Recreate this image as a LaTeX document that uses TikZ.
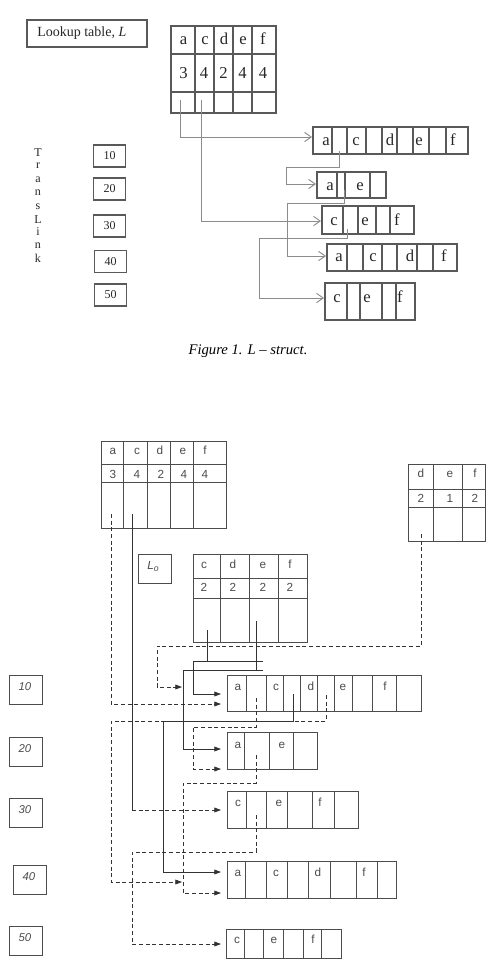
\documentclass[tikz,border=0pt]{standalone}
\usepackage{fontspec}
\setmainfont{Liberation Serif}
\newfontfamily\arialfont{Liberation Sans}
\usetikzlibrary{arrows.meta}
\begin{document}
\begin{tikzpicture}[x=0.75pt,y=-0.75pt,
  fonebox/.style={draw=black!65,line width=0.9pt},
  fonearr/.style={draw=black!45,line width=0.7pt,-{Straight Barb[length=5pt,width=7pt]}},
  fonetxt/.style={inner sep=0pt,font=\fontsize{12.5}{14}\selectfont,text=black!85,text height=0.47em,text depth=0pt},
  fonedig/.style={inner sep=0pt,font=\fontsize{12.5}{14}\selectfont,text=black!85,text height=0.68em,text depth=0pt},
  fonenum/.style={inner sep=0pt,font=\fontsize{9}{11}\selectfont,text=black!85},
  ftwobox/.style={draw=black!70,line width=0.6pt},
  ftwoline/.style={draw=black!80,line width=0.6pt},
  ftwoarr/.style={draw=black!80,line width=0.6pt,-{Triangle[length=5pt,width=3.6pt]}},
  ftwodash/.style={dash pattern=on 3pt off 2pt},
  ftwotxt/.style={inner sep=0pt,font=\arialfont\fontsize{8.8}{10}\selectfont,text=black!70,text height=0.52em,text depth=0pt},
  ftwodig/.style={inner sep=0pt,font=\arialfont\fontsize{8.8}{10}\selectfont,text=black!70,text height=0.72em,text depth=0pt},
  ftwonum/.style={inner sep=0pt,font=\arialfont\itshape\fontsize{8.5}{9}\selectfont,text=black!70,text height=0.72em,text depth=0pt}]
\useasboundingbox (0,0) rectangle (486,961);

% ================= FIGURE 1 =================
\draw[fonebox] (27,20) rectangle (147,47);
\node[fonenum,anchor=west,font=\fontsize{10.5}{12}\selectfont] (lkp) at (37,33) {Lookup table, \textit{L}};

% lookup table
\draw[fonebox] (171,26) rectangle (276,113);
\foreach \x in {195,214,233,252} \draw[fonebox] (\x,26) -- (\x,113);
\foreach \y in {54,92} \draw[fonebox] (171,\y) -- (276,\y);
\foreach \t/\x [count=\i] in {a/183.5,c/205,d/224,e/243,f/263}
  \node[fonetxt] (lt\i) at (\x,41) {\t};
\foreach \t/\x [count=\i] in {3/183.5,4/204,2/223.5,4/242.5,4/263}
  \node[fonedig] (ln\i) at (\x,74) {\t};
\coordinate (pa) at (180,100);
\coordinate (pc) at (201,100);

% TransLink
\foreach \t/\y [count=\i] in {T/153,r/166,a/180,n/193,s/207,L/220,i/232,n/246,k/258}
  \node[fonenum] (tl\i) at (38,\y) {\t};

% number boxes
\node[fonebox,fonenum,minimum width=24pt,minimum height=16.5pt] (n10) at (109.5,156) {10};
\node[fonebox,fonenum,minimum width=24pt,minimum height=16.5pt] (n20) at (109.5,189) {20};
\node[fonebox,fonenum,minimum width=24pt,minimum height=16.5pt] (n30) at (109.5,226) {30};
\node[fonebox,fonenum,minimum width=24pt,minimum height=16.5pt] (n40) at (110.5,261.5) {40};
\node[fonebox,fonenum,minimum width=24pt,minimum height=16.5pt] (n50) at (110.5,295) {50};

% box 1
\draw[fonebox] (313,127) rectangle (468,154);
\foreach \x in {332,347,366,382,397,413,429,446} \draw[fonebox] (\x,127) -- (\x,154);
\foreach \t/\x [count=\i] in {a/326,c/356,d/390,e/419,f/453}
  \node[fonetxt] (ba\i) at (\x,142) {\t};
\coordinate (ain) at (312,137);
\coordinate (ap) at (339,151);
% box 2
\draw[fonebox] (317,172) rectangle (386,198);
\foreach \x in {337,345,370} \draw[fonebox] (\x,172) -- (\x,198);
\node[fonetxt] (bb1) at (330,187) {a};
\node[fonetxt] (bb2) at (360,187) {e};
\coordinate (bin) at (316,184);
\coordinate (bp) at (344,190);
% box 3
\draw[fonebox] (322,206) rectangle (414,234);
\foreach \x in {343,358,376,390} \draw[fonebox] (\x,206) -- (\x,234);
\foreach \t/\x [count=\i] in {c/334,e/365,f/397}
  \node[fonetxt] (bc\i) at (\x,222) {\t};
\coordinate (cin) at (321,221);
\coordinate (cp) at (347,229);
% box 4
\draw[fonebox] (327,244) rectangle (457,271);
\foreach \x in {347,363,382,397,417,433} \draw[fonebox] (\x,244) -- (\x,271);
\foreach \t/\x [count=\i] in {a/339,c/373,d/410,f/444}
  \node[fonetxt] (bd\i) at (\x,258) {\t};
\coordinate (din) at (326,256);
% box 5
\draw[fonebox] (325,283) rectangle (415,320);
\foreach \x in {347,360,382,396} \draw[fonebox] (\x,283) -- (\x,320);
\foreach \t/\x [count=\i] in {c/337,e/367,f/400}
  \node[fonetxt] (be\i) at (\x,299) {\t};
\coordinate (ein) at (324,298);

% arrows fig 1
\draw[fonearr] (pa) |- (ain);
\draw[fonearr] (pc) |- (cin);
\draw[fonearr] (ap) -- (339,167) -- (286,167) |- (bin);
\draw[fonearr] (bp) -- (344,203) -- (287,203) |- (din);
\draw[fonearr] (cp) -- (347,238) -- (259,238) |- (ein);

\node[font=\itshape\fontsize{11}{13}\selectfont,inner sep=0pt] (cap) at (248,351) {Figure 1. L -- struct.};

% ================= FIGURE 2 =================
% top-left table
\draw[ftwobox] (101,441) rectangle (226,528);
\foreach \x in {123,147,170,193} \draw[ftwobox] (\x,441) -- (\x,528);
\foreach \y in {464,482} \draw[ftwobox] (101,\y) -- (226,\y);
\foreach \t/\x [count=\i] in {a/113,c/137,d/160,e/183,f/205}
  \node[ftwotxt] (tt\i) at (\x,451) {\t};
\foreach \t/\x [count=\i] in {3/113,4/137,2/161,4/184,4/205}
  \node[ftwodig] (tn\i) at (\x,474) {\t};
\coordinate (qa) at (111,514);
\coordinate (qc) at (132,514);

% L_o box
\draw[ftwobox] (138,554) rectangle (171,583);
\node[ftwotxt] (lo) at (153,566) {\textit{L}\raisebox{-0.4ex}{\fontsize{6.5}{7}\selectfont\textit{o}}};

% middle table
\draw[ftwobox] (193,554) rectangle (307,642);
\foreach \x in {220,249,278} \draw[ftwobox] (\x,554) -- (\x,642);
\foreach \y in {578,598} \draw[ftwobox] (193,\y) -- (307,\y);
\foreach \t/\x [count=\i] in {c/204,d/233,e/263,f/290}
  \node[ftwotxt] (mt\i) at (\x,565) {\t};
\foreach \x [count=\i] in {204,233,263,290}
  \node[ftwodig] (mn\i) at (\x,587) {2};
\coordinate (mc) at (207,630);
\coordinate (me) at (256,621);

% top-right table
\draw[ftwobox] (408,464) rectangle (485.7,541);
\foreach \x in {433,462} \draw[ftwobox] (\x,464) -- (\x,541);
\foreach \y in {489,507} \draw[ftwobox] (408,\y) -- (485.7,\y);
\foreach \t/\x [count=\i] in {d/421,e/450,f/475}
  \node[ftwotxt] (rt\i) at (\x,474) {\t};
\foreach \t/\x [count=\i] in {2/421,1/450,2/475}
  \node[ftwodig] (rn\i) at (\x,498) {\t};
\coordinate (rd) at (421,534);

% number boxes fig 2
\draw[ftwobox] (9,675) rectangle (42,704);  \node[ftwonum] (m10) at (25,686) {10};
\draw[ftwobox] (9,737) rectangle (42,766);  \node[ftwonum] (m20) at (25,748) {20};
\draw[ftwobox] (9,798) rectangle (42,827);  \node[ftwonum] (m30) at (25,809) {30};
\draw[ftwobox] (13,865) rectangle (46,894); \node[ftwonum] (m40) at (29,876) {40};
\draw[ftwobox] (9,926) rectangle (42,955);  \node[ftwonum] (m50) at (25,937) {50};

% box A
\draw[ftwobox] (227,675) rectangle (421,711);
\foreach \x in {246,266,283,300,317,334,352,372,396} \draw[ftwobox] (\x,675) -- (\x,711);
\foreach \t/\x [count=\i] in {a/238,c/276,d/311,e/343,f/385}
  \node[ftwotxt] (xa\i) at (\x,687) {\t};
% box B
\draw[ftwobox] (227,732) rectangle (317,769);
\foreach \x in {244,269,293} \draw[ftwobox] (\x,732) -- (\x,769);
\node[ftwotxt] (xb1) at (238,745) {a};
\node[ftwotxt] (xb2) at (282,745) {e};
% box C
\draw[ftwobox] (227,791) rectangle (358,828);
\foreach \x in {246,266,287,312,334} \draw[ftwobox] (\x,791) -- (\x,828);
\foreach \t/\x [count=\i] in {c/238,e/279,f/320}
  \node[ftwotxt] (xc\i) at (\x,803) {\t};
% box D
\draw[ftwobox] (227,861) rectangle (396,898);
\foreach \x in {245,266,287,308,330,356,377} \draw[ftwobox] (\x,861) -- (\x,898);
\foreach \t/\x [count=\i] in {a/238,c/276,d/318,f/364}
  \node[ftwotxt] (xd\i) at (\x,873) {\t};
% box E
\draw[ftwobox] (226,929) rectangle (341,958);
\foreach \x in {244,263,283,303,321} \draw[ftwobox] (\x,929) -- (\x,958);
\foreach \t/\x [count=\i] in {c/237,e/274,f/313}
  \node[ftwotxt] (xe\i) at (\x,940) {\t};

% pointer starts and targets
\coordinate (pA2) at (256,698);
\coordinate (pA4) at (293,694);
\coordinate (pA6) at (326,695);
\coordinate (pB2) at (256,755);
\coordinate (pC2) at (256,815);
\coordinate (inAs) at (221,694);
\coordinate (inAd) at (221,704);
\coordinate (inBs) at (221,749);
\coordinate (inBd) at (221,769);
\coordinate (inCd) at (221,810);
\coordinate (inDs) at (221,872);
\coordinate (inDd) at (221,893);
\coordinate (inEd) at (221,944);
\coordinate (jA) at (182,687);
\coordinate (jD) at (182,882);
\coordinate (qcend) at (132,810);

% connectors fig 2
\draw[ftwoarr,ftwodash] (qa) |- (inAd);
\draw[ftwoline] (qc) -- (qcend);
\draw[ftwoarr,ftwodash] (qcend) -- (inCd);
\draw[ftwoarr,ftwodash] (rd) -- (421,646) -- (157,646) |- (jA);
\draw[ftwoline] (mc) -- (207,661);
\draw[ftwoarr] (263,661) -- (193,661) |- (inAs);
\draw[ftwoline] (me) -- (256,670);
\draw[ftwoarr] (263,670) -- (183,670) |- (inBs);
\draw[ftwoarr,ftwodash] (pA2) -- (256,727) -- (193,727) |- (inBd);
\draw[ftwoarr] (pA4) -- (293,721) -- (163,721) |- (inDs);
\draw[ftwoarr,ftwodash] (pA6) -- (326,721) -- (111,721) |- (jD);
\draw[ftwoarr,ftwodash] (pB2) -- (256,783) -- (183,783) |- (inDd);
\draw[ftwoarr,ftwodash] (pC2) -- (256,852) -- (132,852) |- (inEd);
\end{tikzpicture}
\end{document}
